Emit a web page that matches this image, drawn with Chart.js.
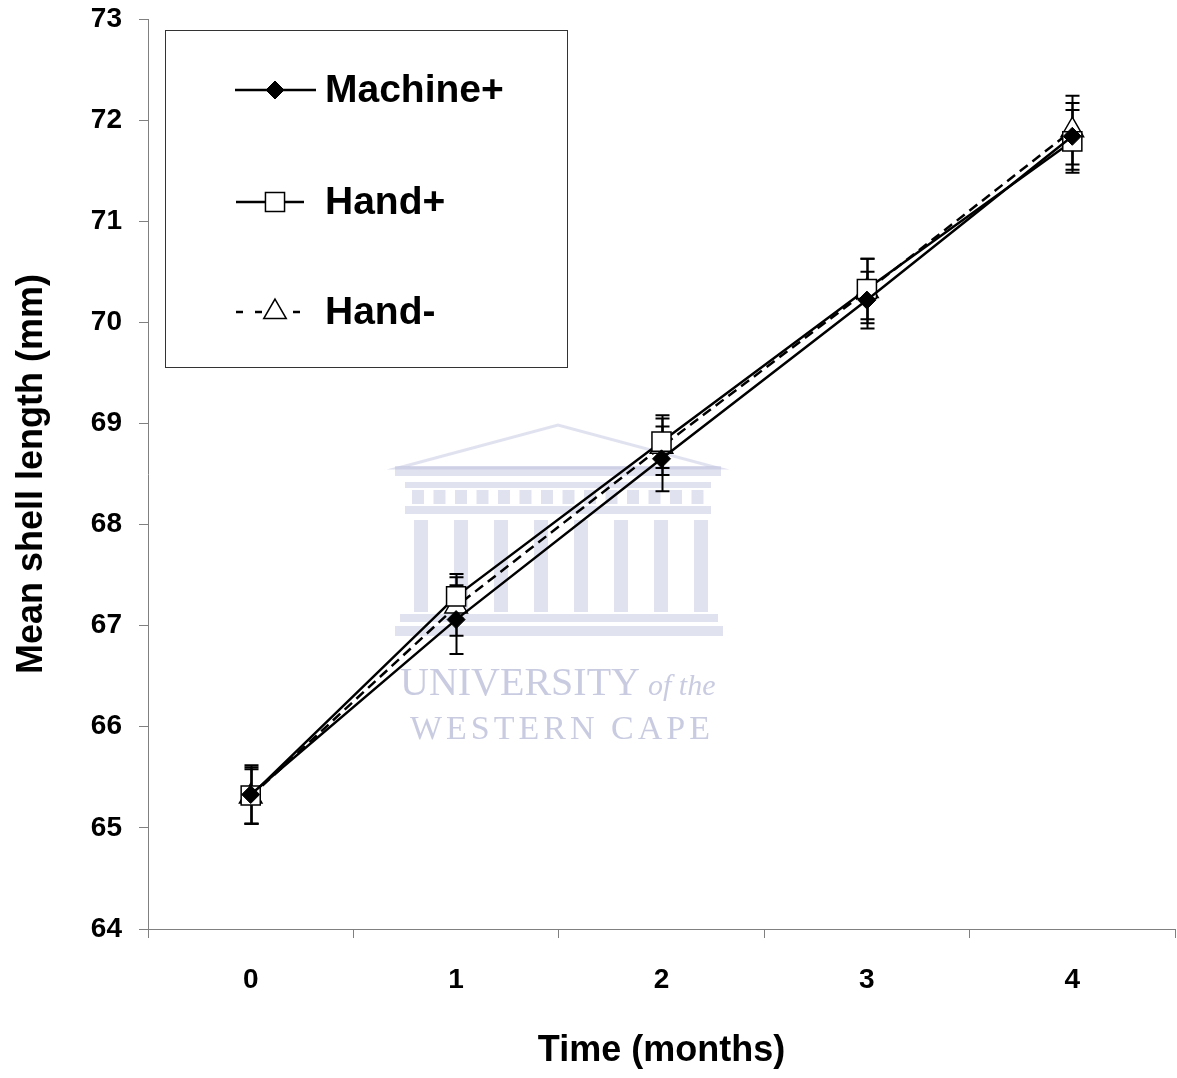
<!DOCTYPE html>
<html><head><meta charset="utf-8">
<script src="https://cdn.jsdelivr.net/npm/chart.js@4/dist/chart.umd.min.js"></script>
<style>html,body{margin:0;padding:0;background:#fff}#wrap{width:1177px;height:1078px;position:relative}</style>
</head><body><div id="wrap"><canvas id="c" width="1177" height="1078"></canvas></div>
<script>
const months = ['0', '1', '2', '3', '4'];
const seriesNames = ['Machine+', 'Hand+', 'Hand-'];
const machinePlus = [65.33, 67.06, 68.65, 70.22, 71.84];
const handPlus = [65.32, 67.29, 68.82, 70.33, 71.79];
const handMinus = [65.31, 67.19, 68.77, 70.31, 71.90];
const machinePlusErr = [0.29, 0.34, 0.32, 0.28, 0.33];
const handPlusErr = [0.28, 0.22, 0.26, 0.30, 0.31];
const handMinusErr = [0.27, 0.29, 0.28, 0.32, 0.34];
const yMin = 64, yMax = 73, yStep = 1;
const yTitle = 'Mean shell length (mm)';
const xTitle = 'Time (months)';
const watermark1 = 'UNIVERSITY', watermark1b = 'of the', watermark2 = 'WESTERN CAPE';

const FONT = '"Liberation Sans", Arial, sans-serif';
const AXIS = '#808080';

const errorBarPlugin = {
  id: 'errorBars',
  beforeDatasetsDraw(chart) {
    const ctx = chart.ctx, xs = chart.scales.x, ys = chart.scales.y;
    ctx.save();
    ctx.strokeStyle = '#000';
    ctx.lineWidth = 2;
    chart.data.datasets.forEach(ds => {
      ds.data.forEach((v, j) => {
        const e = ds.errors[j];
        const px = Math.round(xs.getPixelForValue(j)) + 0.5;
        const t = ys.getPixelForValue(v + e), b = ys.getPixelForValue(v - e);
        ctx.beginPath();
        ctx.moveTo(px, t); ctx.lineTo(px, b);
        ctx.moveTo(px - 7, t); ctx.lineTo(px + 7, t);
        ctx.moveTo(px - 7, b); ctx.lineTo(px + 7, b);
        ctx.stroke();
      });
    });
    ctx.restore();
  }
};

const watermarkPlugin = {
  id: 'watermark',
  beforeDatasetsDraw(chart) {
    const ctx = chart.ctx;
    ctx.save();
    const c = 'rgba(175,180,215,0.38)';
    ctx.fillStyle = c; ctx.strokeStyle = c; ctx.lineWidth = 3;
    ctx.beginPath();
    ctx.moveTo(398, 468); ctx.lineTo(558, 425); ctx.lineTo(718, 468); ctx.closePath();
    ctx.stroke();
    ctx.fillRect(395, 466, 326, 10);
    ctx.fillRect(405, 482, 306, 6);
    for (let i = 0; i < 14; i++) ctx.fillRect(412 + i * 21.5, 490, 12, 14);
    ctx.fillRect(405, 506, 306, 8);
    for (let i = 0; i < 8; i++) ctx.fillRect(414 + i * 40, 520, 14, 92);
    ctx.fillRect(400, 614, 318, 8);
    ctx.fillRect(395, 626, 328, 10);
    ctx.fillStyle = 'rgba(165,170,205,0.6)';
    ctx.textBaseline = 'alphabetic';
    ctx.font = '40px "Liberation Serif", "DejaVu Serif", serif';
    ctx.fillText(watermark1, 400, 695);
    ctx.font = 'italic 30px "Liberation Serif", "DejaVu Serif", serif';
    ctx.fillText(watermark1b, 648, 695);
    ctx.font = '34px "Liberation Serif", "DejaVu Serif", serif';
    ctx.letterSpacing = '4px';
    ctx.fillText(watermark2, 410, 739);
    ctx.restore();
  }
};

const legendPlugin = {
  id: 'boxLegend',
  afterDraw(chart) {
    const ctx = chart.ctx;
    ctx.save();
    ctx.strokeStyle = '#333';
    ctx.lineWidth = 1;
    ctx.strokeRect(165.5, 30.5, 402, 337);
    const rows = [90, 202, 312];
    const lines = [[235, 316], [236, 304], [236, 312]];
    chart.data.datasets.forEach((ds, i) => {
      const y = rows[i];
      ctx.save();
      ctx.strokeStyle = ds.borderColor;
      ctx.lineWidth = ds.borderWidth;
      ctx.setLineDash(i === 2 ? [7, 12] : []);
      ctx.beginPath(); ctx.moveTo(lines[i][0], y); ctx.lineTo(lines[i][1], y); ctx.stroke();
      ctx.restore();
      ctx.fillStyle = ds.pointBackgroundColor;
      ctx.strokeStyle = ds.pointBorderColor;
      ctx.lineWidth = ds.pointBorderWidth;
      Chart.helpers.drawPoint(ctx, {pointStyle: ds.pointStyle, radius: ds.pointRadius, rotation: 0, borderWidth: ds.pointBorderWidth}, 275, y);
      ctx.fillStyle = '#000';
      ctx.font = 'bold 39px ' + FONT;
      ctx.textBaseline = 'middle';
      ctx.textAlign = 'left';
      ctx.fillText(seriesNames[i], 325, y + 1);
    });
    ctx.restore();
  }
};

const ctx = document.getElementById('c').getContext('2d');
new Chart(ctx, {
  type: 'line',
  data: {
    labels: months,
    datasets: [
      {
        label: seriesNames[0], data: machinePlus, errors: machinePlusErr,
        borderColor: '#000', borderWidth: 2.5, tension: 0, fill: false,
        pointStyle: 'rectRot', pointRadius: 9, pointBackgroundColor: '#000',
        pointBorderColor: '#000', pointBorderWidth: 1
      },
      {
        label: seriesNames[1], data: handPlus, errors: handPlusErr,
        borderColor: '#000', borderWidth: 2.5, tension: 0, fill: false,
        pointStyle: 'rect', pointRadius: 13.5, pointBackgroundColor: '#fff',
        pointBorderColor: '#000', pointBorderWidth: 1.5
      },
      {
        label: seriesNames[2], data: handMinus, errors: handMinusErr,
        borderColor: '#000', borderWidth: 2.5, tension: 0, fill: false, borderDash: [10, 6],
        pointStyle: 'triangle', pointRadius: 13, pointBackgroundColor: '#fff',
        pointBorderColor: '#000', pointBorderWidth: 1.5
      }
    ]
  },
  options: {
    responsive: false,
    devicePixelRatio: 1,
    animation: false,
    layout: { autoPadding: false, padding: { left: 0, right: 2, top: 19, bottom: 0 } },
    plugins: { legend: { display: false }, tooltip: { enabled: false } },
    scales: {
      x: {
        type: 'category',
        offset: true,
        grid: { offset: true, drawOnChartArea: false, drawTicks: true, tickLength: 9, color: AXIS, lineWidth: 1 },
        border: { color: AXIS, width: 1 },
        ticks: { color: '#000', font: { family: FONT, size: 28, weight: 'bold' }, padding: 25, maxRotation: 0 },
        title: { display: true, text: xTitle, color: '#000', font: { family: FONT, size: 36, weight: 'bold' }, padding: { top: 0, bottom: 5 } },
        afterFit(s) { s.height = 149; s.paddingLeft = 0; s.paddingRight = 0; }
      },
      y: {
        type: 'linear',
        min: yMin, max: yMax,
        grid: { drawOnChartArea: false, drawTicks: true, tickLength: 9, color: AXIS, lineWidth: 1 },
        border: { color: AXIS, width: 1 },
        ticks: { stepSize: yStep, color: '#000', font: { family: FONT, size: 28, weight: 'bold' }, padding: 17 },
        title: { display: true, text: yTitle, color: '#000', font: { family: FONT, size: 36, weight: 'bold' }, padding: { top: 10, bottom: 0 } },
        afterFit(s) { s.width = 148; s.paddingTop = 0; s.paddingBottom = 0; }
      }
    }
  },
  plugins: [watermarkPlugin, errorBarPlugin, legendPlugin]
});
</script>
</body></html>
